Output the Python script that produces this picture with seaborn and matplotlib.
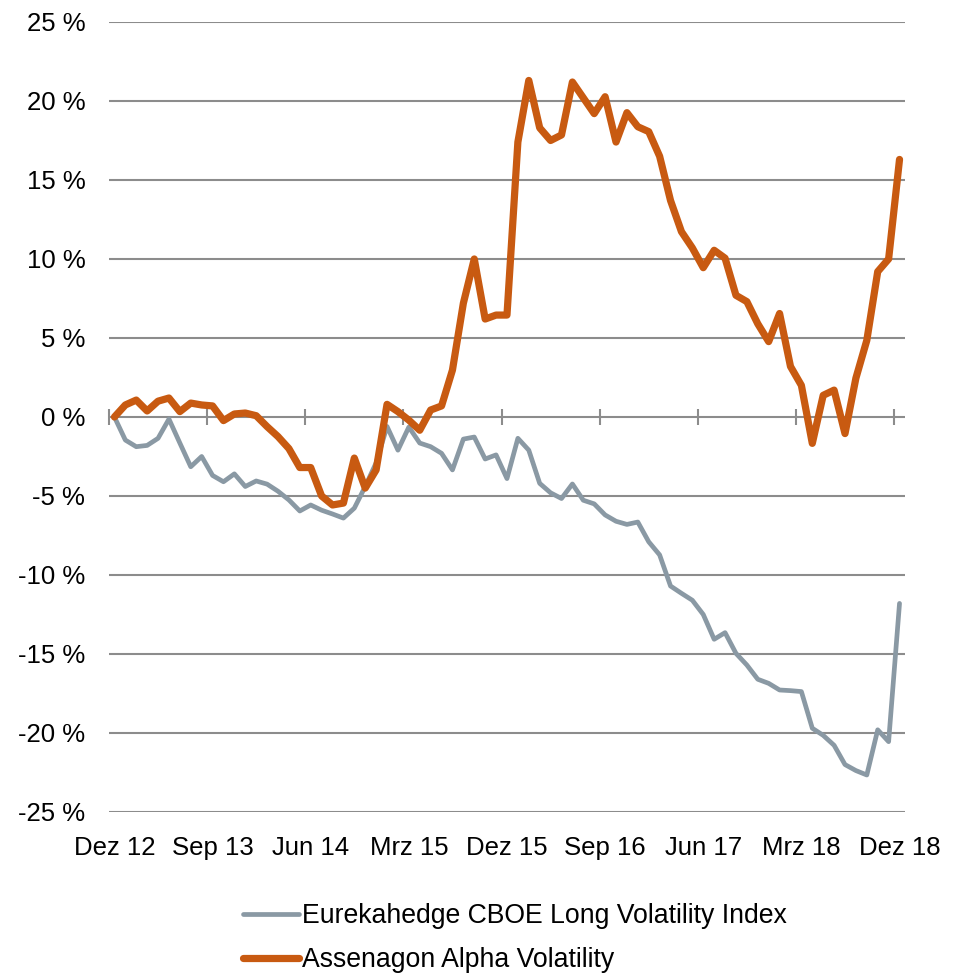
import numpy as np
import pandas as pd
import matplotlib
matplotlib.use('Agg')
import matplotlib.pyplot as plt
import seaborn as sns

# monthly values Dez 12 .. Dez 18, in %
months = pd.date_range('2012-12-01', periods=73, freq='MS')

eurekahedge = [0.0, -1.46, -1.88, -1.8, -1.35, -0.13, -1.65, -3.15, -2.5, -3.7,
               -4.1, -3.6, -4.4, -4.05, -4.25, -4.7, -5.25, -5.95, -5.57, -5.9,
               -6.14, -6.4, -5.77, -4.4, -2.9, -0.6, -2.1, -0.64, -1.65, -1.88,
               -2.3, -3.35, -1.4, -1.27, -2.66, -2.4, -3.9, -1.35, -2.1, -4.2,
               -4.8, -5.16, -4.24, -5.27, -5.5, -6.2, -6.6, -6.8, -6.65, -7.9,
               -8.73, -10.7, -11.16, -11.6, -12.5, -14.07, -13.65, -14.96, -15.7, -16.6,
               -16.86, -17.28, -17.32, -17.38, -19.7, -20.15, -20.78, -22.0, -22.38, -22.66,
               -19.8, -20.55, -11.8]

assenagon = [0.0, 0.76, 1.07, 0.38, 1.0, 1.2, 0.34, 0.88, 0.76, 0.7,
             -0.23, 0.19, 0.25, 0.08, -0.61, -1.24, -2.0, -3.2, -3.2, -5.0,
             -5.57, -5.45, -2.6, -4.5, -3.35, 0.8, 0.34, -0.2, -0.84, 0.44,
             0.7, 2.97, 7.2, 10.0, 6.2, 6.45, 6.45, 17.4, 21.3, 18.3,
             17.5, 17.85, 21.2, 20.2, 19.2, 20.27, 17.4, 19.26, 18.37, 18.06,
             16.5, 13.7, 11.73, 10.7, 9.45, 10.55, 10.05, 7.7, 7.3, 5.9,
             4.77, 6.55, 3.2, 2.0, -1.67, 1.37, 1.7, -1.05, 2.46, 4.85,
             9.2, 10.0, 16.3]

labels = ['Eurekahedge CBOE Long Volatility Index', 'Assenagon Alpha Volatility']
tick_labels = ['Dez 12', 'Sep 13', 'Jun 14', 'Mrz 15', 'Dez 15',
               'Sep 16', 'Jun 17', 'Mrz 18', 'Dez 18']
y_ticks = [25, 20, 15, 10, 5, 0, -5, -10, -15, -20, -25]

df = pd.DataFrame({'month': months, 'idx': np.arange(len(months)),
                   'eureka': eurekahedge, 'assenagon': assenagon})

sns.set_style('white')
plt.rcParams['font.family'] = ['Liberation Sans', 'DejaVu Sans']

fig = plt.figure(figsize=(9.61, 9.73), dpi=100)
ax = fig.add_axes([0.1134, 0.1655, 0.8283, 0.8119])

grid_col = '#8c8c8c'
sns.lineplot(data=df, x='idx', y='eureka', ax=ax, color='#8a99a4', lw=3.4,
             label=labels[0])
sns.lineplot(data=df, x='idx', y='assenagon', ax=ax, color='#c85a11', lw=5.2,
             label=labels[1])

ax.set_xlim(-0.5, len(months) - 0.5)
ax.set_ylim(-25, 25)
ax.set_yticks(y_ticks)
ax.set_yticklabels([f'{v} %' for v in y_ticks])
ax.yaxis.grid(True, color=grid_col, lw=1.5)
ax.set_axisbelow(True)

ax.set_xticks(np.arange(0, len(months), 9))
ax.set_xticklabels(tick_labels)
ax.tick_params(axis='both', length=0, labelsize=18.5, colors='black')
ax.tick_params(axis='x', pad=17)
ax.tick_params(axis='y', pad=17)
ax.set_xlabel('')
ax.set_ylabel('')
for s in ax.spines.values():
    s.set_visible(False)

# tick marks sit on the zero line
sec = ax.secondary_xaxis(0.5)
sec.set_xticks(np.arange(0, len(months), 9) - 0.5)
sec.tick_params(direction='inout', length=11, width=1.5, color=grid_col,
                labelbottom=False, labeltop=False)
sec.spines['bottom'].set_visible(False)
sec.spines['top'].set_visible(False)

ax.get_legend().remove()
h, l = ax.get_legend_handles_labels()
fig.legend(h, l, loc='upper left', bbox_to_anchor=(243 / 961, 1 - 903 / 973),
           frameon=False, fontsize=19.2, labelcolor='black', handlelength=2.1,
           handletextpad=0.1, labelspacing=0.68, borderpad=0, borderaxespad=0)

fig.savefig('out.png', dpi=100)
